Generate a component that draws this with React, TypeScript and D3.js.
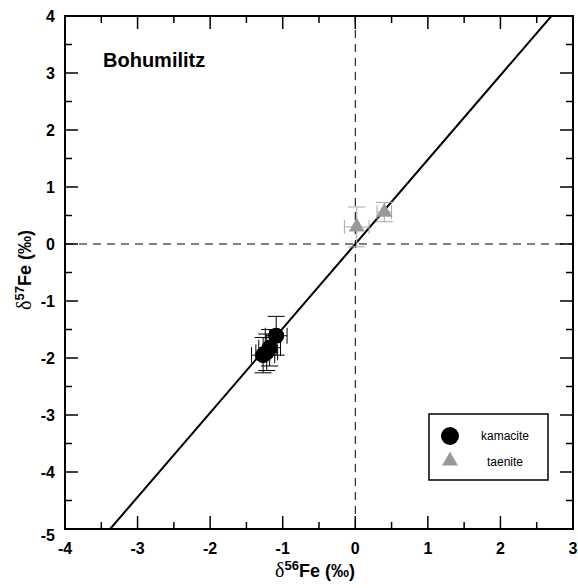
import React from "react";
import * as d3 from "d3";

const kamaciteX = [-1.09, -1.18, -1.22, -1.27];
const kamaciteY = [-1.61, -1.82, -1.9, -1.95];
const kamaciteXErr = [0.15, 0.15, 0.15, 0.16];
const kamaciteYErr = [0.34, 0.32, 0.32, 0.31];

const taeniteX = [0.02, 0.4];
const taeniteY = [0.3, 0.56];
const taeniteXErr = [0.17, 0.1];
const taeniteYErr = [0.35, 0.17];

const lineSlope = [1.48];
const xMajor = [-4, -3, -2, -1, 0, 1, 2, 3];
const yMajor = [-5, -4, -3, -2, -1, 0, 1, 2, 3, 4];
const xMinor = [-3.5, -2.5, -1.5, -0.5, 0.5, 1.5, 2.5];
const yMinor = [-4.5, -3.5, -2.5, -1.5, -0.5, 0.5, 1.5, 2.5, 3.5];
const legendLabels = ["kamacite", "taenite"];

const W = 578, H = 588;
const L = 65, R = 573, T = 16, B = 529;
const font = "Liberation Sans, Arial, sans-serif";

export default function App() {
  const x = d3.scaleLinear().domain([-4, 3]).range([L, R]);
  const y = d3.scaleLinear().domain([-5, 4]).range([B, T]);
  const m = lineSlope[0];
  const lx0 = -5 / m, lx1 = 4 / m;
  const tri = d3.symbol().type(d3.symbolTriangle).size(110)();

  const errBars = (xs: number[], ys: number[], xe: number[], ye: number[], color: string, capW: number, capH: number, key: string) =>
    xs.map((xv, i) => {
      const cx = x(xv), cy = y(ys[i]);
      const x0 = x(xv - xe[i]), x1 = x(xv + xe[i]);
      const y0 = y(ys[i] + ye[i]), y1 = y(ys[i] - ye[i]);
      return (
        <g key={key + i} stroke={color} strokeWidth={1}>
          <line x1={x0} x2={x1} y1={cy} y2={cy} />
          <line x1={cx} x2={cx} y1={y0} y2={y1} />
          <line x1={x0} x2={x0} y1={cy - capH / 2} y2={cy + capH / 2} />
          <line x1={x1} x2={x1} y1={cy - capH / 2} y2={cy + capH / 2} />
          <line x1={cx - capW / 2} x2={cx + capW / 2} y1={y0} y2={y0} />
          <line x1={cx - capW / 2} x2={cx + capW / 2} y1={y1} y2={y1} />
        </g>
      );
    });

  return (
    <svg width={W} height={H} style={{ position: "absolute", left: 0, top: 0, background: "#fff" }}>
      <defs>
        <clipPath id="plot">
          <rect x={L} y={T} width={R - L} height={B - T} />
        </clipPath>
      </defs>
      <rect x={0} y={0} width={W} height={H} fill="#fff" />
      {/* dashed zero lines */}
      <line x1={L} x2={R} y1={y(0)} y2={y(0)} stroke="#000" strokeWidth={1} strokeDasharray="8,6" />
      <line x1={x(0)} x2={x(0)} y1={T} y2={B} stroke="#000" strokeWidth={1} strokeDasharray="8,6" />
      {/* regression line */}
      <line x1={x(lx0)} y1={y(lx0 * m)} x2={x(lx1)} y2={y(lx1 * m)} stroke="#000" strokeWidth={2} clipPath="url(#plot)" />
      {/* error bars */}
      {errBars(taeniteX, taeniteY, taeniteXErr, taeniteYErr, "#a6a6a6", 17, 14, "t")}
      {errBars(kamaciteX, kamaciteY, kamaciteXErr, kamaciteYErr, "#000", 17, 16, "k")}
      {/* points */}
      {taeniteX.map((xv, i) => (
        <path key={"tp" + i} d={tri!} transform={`translate(${x(xv)},${y(taeniteY[i])})`} fill="#999" />
      ))}
      {kamaciteX.map((xv, i) => (
        <circle key={"kp" + i} cx={x(xv)} cy={y(kamaciteY[i])} r={8} fill="#000" />
      ))}
      {/* ticks */}
      <g stroke="#000" strokeWidth={1.5}>
        {xMajor.map((v) => (
          <g key={"xm" + v}>
            <line x1={x(v)} x2={x(v)} y1={B} y2={B - 13} />
            <line x1={x(v)} x2={x(v)} y1={T} y2={T + 13} />
          </g>
        ))}
        {xMinor.map((v) => (
          <g key={"xn" + v}>
            <line x1={x(v)} x2={x(v)} y1={B} y2={B - 7} />
            <line x1={x(v)} x2={x(v)} y1={T} y2={T + 7} />
          </g>
        ))}
        {yMajor.map((v) => (
          <g key={"ym" + v}>
            <line x1={L} x2={L + 13} y1={y(v)} y2={y(v)} />
            <line x1={R} x2={R - 13} y1={y(v)} y2={y(v)} />
          </g>
        ))}
        {yMinor.map((v) => (
          <g key={"yn" + v}>
            <line x1={L} x2={L + 7} y1={y(v)} y2={y(v)} />
            <line x1={R} x2={R - 7} y1={y(v)} y2={y(v)} />
          </g>
        ))}
      </g>
      <rect x={L} y={T} width={R - L} height={B - T} fill="none" stroke="#000" strokeWidth={2} />
      {/* tick labels */}
      <g fontFamily={font} fontWeight="bold" fontSize={16} fill="#000">
        {xMajor.map((v) => (
          <text key={"xl" + v} x={x(v)} y={B + 25} textAnchor="middle">{v}</text>
        ))}
        {yMajor.map((v) => (
          <text key={"yl" + v} x={L - 10} y={y(v) + 6 + (v === -5 ? 6 : 0)} textAnchor="end">{v}</text>
        ))}
      </g>
      {/* axis titles */}
      <text x={315} y={577} textAnchor="middle" fontFamily={font} fontWeight="bold" fontSize={18}>
        <tspan fontFamily="Liberation Serif, Times New Roman, serif" fontWeight="normal" fontSize={20}>δ</tspan>
        <tspan fontSize={13} dy={-7}>56</tspan>
        <tspan dy={7}>Fe (‰)</tspan>
      </text>
      <text transform={`translate(31,${270}) rotate(-90)`} textAnchor="middle" fontFamily={font} fontWeight="bold" fontSize={18}>
        <tspan fontFamily="Liberation Serif, Times New Roman, serif" fontWeight="normal" fontSize={20}>δ</tspan>
        <tspan fontSize={13} dy={-7}>57</tspan>
        <tspan dy={7}>Fe (‰)</tspan>
      </text>
      {/* title */}
      <text x={103} y={67} fontFamily={font} fontWeight="bold" fontSize={20}>Bohumilitz</text>
      {/* legend */}
      <rect x={429} y={414} width={119} height={66} fill="#fff" stroke="#000" strokeWidth={1.5} />
      <circle cx={450} cy={436} r={9} fill="#000" />
      <path d={tri!} transform={`translate(450,${461})`} fill="#999" />
      <text x={505} y={440} textAnchor="middle" fontFamily={font} fontSize={12}>{legendLabels[0]}</text>
      <text x={505} y={466} textAnchor="middle" fontFamily={font} fontSize={12}>{legendLabels[1]}</text>
    </svg>
  );
}
